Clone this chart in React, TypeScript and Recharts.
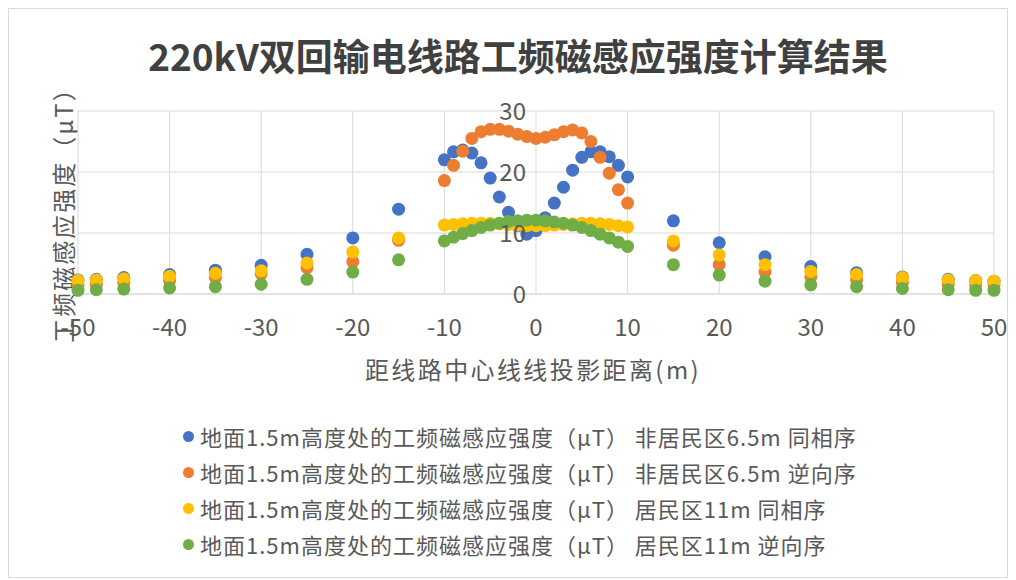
import React from "react";
import {
  ScatterChart,
  Scatter,
  XAxis,
  YAxis,
  CartesianGrid,
  ReferenceDot,
  Legend,
} from "recharts";

// horizontal distance from the line centre (m)
const distances = [
  -50, -48, -45, -40, -35, -30, -25, -20, -15,
  -10, -9, -8, -7, -6, -5, -4, -3, -2, -1, 0, 1, 2, 3, 4, 5, 6, 7, 8, 9, 10,
  15, 20, 25, 30, 35, 40, 45, 48, 50,
];

// magnetic induction at 1.5 m above ground (μT)
const nonResSamePhase = [
  2.3, 2.4, 2.7, 3.2, 3.9, 4.7, 6.5, 9.2, 13.9,
  22.0, 23.3, 23.6, 23.1, 21.5, 19.0, 15.9, 13.4, 11.2, 9.8, 10.4, 12.5, 14.9, 17.5, 20.3, 22.4, 23.3, 23.3, 22.5, 21.1, 19.2,
  12.0, 8.4, 6.1, 4.5, 3.5, 2.8, 2.4, 2.2, 2.1,
];
const nonResReversePhase = [
  1.5, 1.6, 1.8, 2.2, 2.7, 3.3, 4.3, 5.3, 8.8,
  18.6, 21.1, 23.4, 25.5, 26.6, 27.0, 27.0, 26.7, 26.2, 25.8, 25.5, 25.7, 26.1, 26.6, 26.9, 26.4, 25.0, 22.4, 19.8, 17.1, 14.9,
  8.0, 4.8, 3.6, 2.8, 2.3, 1.9, 1.6, 1.5, 1.4,
];
const resSamePhase = [
  2.2, 2.3, 2.5, 2.9, 3.4, 3.8, 5.1, 6.9, 9.2,
  11.3, 11.4, 11.5, 11.6, 11.6, 11.6, 11.5, 11.4, 11.3, 11.2, 11.2, 11.2, 11.3, 11.4, 11.5, 11.6, 11.6, 11.5, 11.4, 11.2, 11.0,
  8.7, 6.4, 4.8, 3.7, 3.2, 2.7, 2.3, 2.2, 2.1,
];
const resReversePhase = [
  0.6, 0.7, 0.8, 1.0, 1.2, 1.6, 2.4, 3.6, 5.6,
  8.7, 9.3, 9.9, 10.4, 10.9, 11.3, 11.6, 11.9, 12.0, 12.1, 12.1, 12.0, 11.8, 11.6, 11.3, 10.9, 10.4, 9.8, 9.2, 8.5, 7.8,
  4.8, 3.1, 2.1, 1.5, 1.2, 0.9, 0.7, 0.6, 0.6,
];

const xTicks = [-50, -40, -30, -20, -10, 0, 10, 20, 30, 40, 50];
const yTicks = [0, 10, 20, 30];

const seriesNames = [
  "地面1.5m高度处的工频磁感应强度（μT） 非居民区6.5m 同相序",
  "地面1.5m高度处的工频磁感应强度（μT） 非居民区6.5m 逆向序",
  "地面1.5m高度处的工频磁感应强度（μT） 居民区11m 同相序",
  "地面1.5m高度处的工频磁感应强度（μT） 居民区11m 逆向序",
];
const seriesValues = [nonResSamePhase, nonResReversePhase, resSamePhase, resReversePhase];
const seriesColors = ["#4472C4", "#ED7D31", "#FFC000", "#70AD47"];

const series = seriesNames.map((name, i) => ({
  name,
  color: seriesColors[i],
  data: distances.map((x, j) => ({ x, y: seriesValues[i][j] })),
}));

const FONT = '"Noto Sans CJK SC", "Noto Sans", sans-serif';
const TEXT = "#595959";
const GRID = "#d9d9d9";

const LegendRows = () => (
  <div style={{ fontFamily: FONT }}>
    {series.map((s) => (
      <div key={s.name} style={{ display: "flex", alignItems: "center", height: 36 }}>
        <span
          style={{
            width: 11,
            height: 11,
            borderRadius: "50%",
            background: s.color,
            marginRight: 6,
            flex: "none",
          }}
        />
        <span style={{ fontSize: 22, letterSpacing: 1, color: TEXT, whiteSpace: "nowrap" }}>
          {s.name}
        </span>
      </div>
    ))}
  </div>
);

export default function App() {
  return (
    <div
      style={{
        position: "relative",
        width: 1000,
        height: 570,
        border: `1px solid ${GRID}`,
        boxSizing: "border-box",
        background: "#fff",
        fontFamily: FONT,
      }}
    >
      <div
        style={{
          position: "absolute",
          left: 509,
          top: 46,
          transform: "translate(-50%, -50%)",
          fontSize: 37,
          fontWeight: 700,
          color: "#404040",
          whiteSpace: "nowrap",
        }}
      >
        220kV双回输电线路工频磁感应强度计算结果
      </div>
      <div
        style={{
          position: "absolute",
          left: 53,
          top: 200,
          transform: "translate(-50%, -50%) rotate(-90deg)",
          fontSize: 24,
          letterSpacing: 2,
          color: TEXT,
          whiteSpace: "nowrap",
        }}
      >
        工频磁感应强度（μT）
      </div>
      <div
        style={{
          position: "absolute",
          left: 524,
          top: 359,
          transform: "translate(-50%, -50%)",
          fontSize: 24,
          letterSpacing: 2.4,
          color: TEXT,
          whiteSpace: "nowrap",
        }}
      >
        距线路中心线线投影距离(m)
      </div>
      <ScatterChart
        width={998}
        height={568}
        margin={{ top: 102, right: 13, bottom: 223, left: 69 }}
      >
        <CartesianGrid stroke={GRID} strokeWidth={1} />
        <XAxis
          type="number"
          dataKey="x"
          domain={[-50, 50]}
          ticks={xTicks}
          height={60}
          tickSize={0}
          tickMargin={25}
          axisLine={{ stroke: GRID, strokeWidth: 1 }}
          tick={{ fill: TEXT, fontSize: 24, fontFamily: FONT }}
        />
        <YAxis type="number" dataKey="y" domain={[0, 30]} ticks={yTicks} hide />
        {series.map((s) => (
          <Scatter
            key={s.name}
            name={s.name}
            data={s.data}
            fill={s.color}
            isAnimationActive={false}
            shape={(p: any) => <circle cx={p.cx} cy={p.cy} r={6.5} fill={s.color} />}
          />
        ))}
        {yTicks.map((v) => (
          <ReferenceDot
            key={v}
            x={0}
            y={v}
            r={0}
            fill="none"
            stroke="none"
            label={{
              value: String(v),
              position: "left",
              offset: 10,
              fill: TEXT,
              fontSize: 24,
              fontFamily: FONT,
            }}
          />
        ))}
        <Legend
          layout="vertical"
          align="center"
          verticalAlign="middle"
          wrapperStyle={{ top: 409, left: 174, width: 800 }}
          content={() => <LegendRows />}
        />
      </ScatterChart>
    </div>
  );
}
